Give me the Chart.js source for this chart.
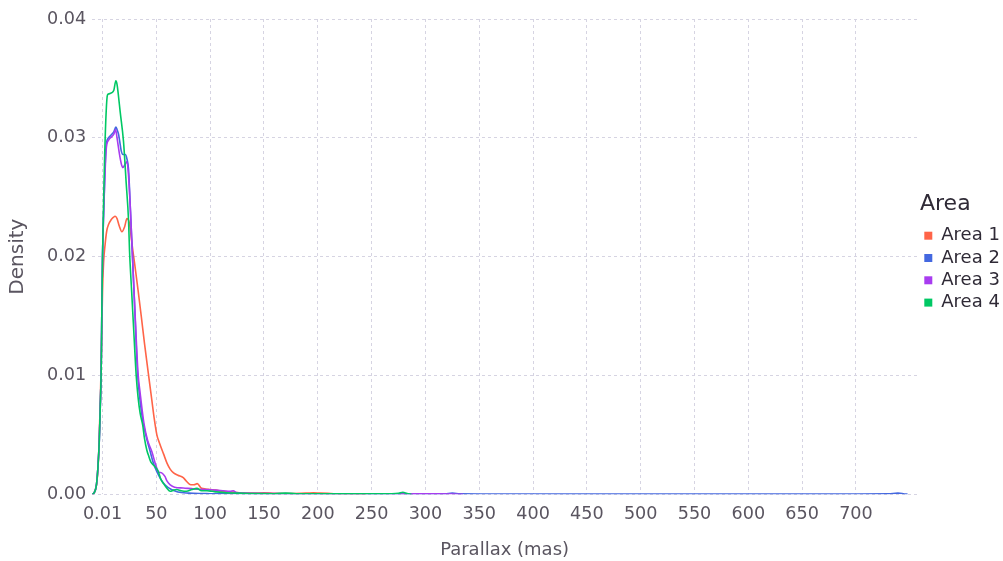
<!DOCTYPE html>
<html>
<head>
<meta charset="utf-8">
<script src="https://cdn.jsdelivr.net/npm/chart.js@4/dist/chart.umd.min.js"></script>
<style>
  html, body { margin: 0; padding: 0; background: #ffffff; }
  #wrap { width: 1003px; height: 561px; position: relative; }
</style>
</head>
<body>
<div id="wrap"><canvas id="chart"></canvas></div>
<script>
// Parallax density estimates per area (x in mas, y = density)
const area1X = [-9.5, -8, -6.5, -5, -3.5, -2, -1, 0, 1, 2.5, 4, 5.6, 8, 10, 11.8, 13.5, 15.5, 18, 20.5, 22.7, 25, 27.5, 30, 33, 36, 39, 42.7, 46, 48, 50.5, 53, 56.7, 60, 63, 66, 70, 75, 78, 82, 85, 88, 92, 96, 100, 105, 112, 118, 125, 132, 140, 150, 160, 175, 190, 196, 202, 215, 230, 245];
const area1Y = [0, 0.0001, 0.0004, 0.0012, 0.0035, 0.0080, 0.0120, 0.0170, 0.0195, 0.0211, 0.0222, 0.0227, 0.0231, 0.0233, 0.0234, 0.0232, 0.0226, 0.0221, 0.0225, 0.0232, 0.0228, 0.0210, 0.0193, 0.0172, 0.0150, 0.0127, 0.0101, 0.0078, 0.0064, 0.0050, 0.0043, 0.0034, 0.0026, 0.0021, 0.0018, 0.0016, 0.0014, 0.0011, 0.0008, 0.0008, 0.0009, 0.0005, 0.00045, 0.0004, 0.00035, 0.00025, 0.0002, 0.00015, 0.0001, 0.0001, 0.00012, 0.00008, 0.00006, 0.0001, 0.00013, 0.0001, 0.00005, 0.00002, 0];

const area2X = [-9.5, -8, -6.5, -5.5, -4.3, -3, -2.1, -1.2, -0.6, 0, 1, 2, 3.4, 5.6, 8.7, 10.5, 12.4, 13.5, 14.9, 16, 17.4, 19, 21.1, 22.5, 24.2, 26, 28, 30, 32.5, 35, 38, 41, 44.3, 47, 50.5, 54, 58, 64, 70, 80, 90, 100, 110, 125, 140, 160, 200, 250, 300, 318, 325, 332, 350, 400, 450, 500, 550, 600, 650, 700, 730, 739, 745, 748];
const area2Y = [0, 0.0001, 0.0004, 0.0009, 0.0022, 0.0045, 0.0073, 0.0106, 0.0157, 0.0199, 0.0235, 0.0265, 0.0294, 0.0300, 0.0303, 0.0305, 0.0309, 0.0307, 0.0303, 0.0297, 0.0289, 0.0286, 0.0286, 0.0283, 0.0273, 0.0238, 0.0197, 0.0155, 0.0103, 0.0078, 0.0059, 0.0047, 0.0036, 0.0027, 0.0019, 0.0013, 0.0008, 0.0004, 0.0002, 0.0001, 0.00006, 0.00005, 0.00004, 0.00004, 0.00003, 0.00003, 0.00002, 0.00002, 0.00002, 0.00003, 0.0001, 0.00003, 0.00002, 0.00002, 0.00001, 0.00001, 0.00001, 0.00001, 0.00001, 0.00002, 0.00003, 0.0001, 0.00003, 0];

const area3X = [-9.5, -8, -6.5, -5.5, -4.3, -3, -2.1, -1.2, -0.6, 0, 1, 2, 3.4, 5.6, 8.7, 10.5, 12.1, 13.5, 15.8, 17.5, 18.9, 20.5, 22.7, 24.2, 26, 28, 30, 33, 35, 38.6, 42, 45.8, 49, 52, 55, 58, 60, 62.9, 67, 75, 85, 97, 105, 112, 118.6, 121.6, 124, 130, 140, 160, 180, 200, 230, 260, 290, 310, 325, 335];
const area3Y = [0, 0.0001, 0.0004, 0.0009, 0.0022, 0.0045, 0.0073, 0.0106, 0.0157, 0.0199, 0.0235, 0.0262, 0.0290, 0.0298, 0.0301, 0.0303, 0.0307, 0.0300, 0.0286, 0.0278, 0.0275, 0.0277, 0.0280, 0.0268, 0.0238, 0.0197, 0.0157, 0.0102, 0.0085, 0.0059, 0.0045, 0.0036, 0.0026, 0.0019, 0.0018, 0.0015, 0.0011, 0.0008, 0.0006, 0.00053, 0.00045, 0.0004, 0.00035, 0.0003, 0.00025, 0.0003, 0.00015, 0.0001, 0.00008, 0.00006, 0.00005, 0.00005, 0.00004, 0.00004, 0.00003, 0.00003, 0.00002, 0];

const area4X = [-9.5, -8, -6.5, -5.5, -4.3, -3, -2.1, -1.2, -0.6, 0, 1, 2, 3.4, 4.6, 6, 8.7, 10.5, 12.4, 13.5, 14.5, 16.4, 19.5, 22, 24.2, 25.1, 27, 29, 31.3, 33, 35, 37.4, 39, 41.2, 43, 45, 48, 51.9, 54, 56.7, 59.8, 62.9, 66, 69, 73, 78, 83, 87.7, 92, 97, 102, 106, 115, 125, 140, 160, 170, 180, 200, 220, 240, 260, 275, 279, 283, 287];
const area4Y = [0, 0.0001, 0.0004, 0.0009, 0.0022, 0.0045, 0.0073, 0.0106, 0.0157, 0.0199, 0.0245, 0.0285, 0.0322, 0.0336, 0.0337, 0.0338, 0.0340, 0.0348, 0.0345, 0.0338, 0.0322, 0.0297, 0.0262, 0.0230, 0.0205, 0.0172, 0.0138, 0.0100, 0.0082, 0.0068, 0.0058, 0.0047, 0.0037, 0.0032, 0.0027, 0.0024, 0.0019, 0.0013, 0.0009, 0.0005, 0.00025, 0.00035, 0.0004, 0.0003, 0.00025, 0.0004, 0.0005, 0.0003, 0.0003, 0.00025, 0.0002, 0.00012, 0.0001, 0.00006, 0.00005, 0.0001, 0.00005, 0.00004, 0.00003, 0.00003, 0.00003, 0.00008, 0.00017, 0.00006, 0];

const seriesNames = ['Area 1', 'Area 2', 'Area 3', 'Area 4'];
const seriesColors = ['#FF6448', '#4468E0', '#A83CF0', '#00C864'];
const xTickValues = [0.01, 50, 100, 150, 200, 250, 300, 350, 400, 450, 500, 550, 600, 650, 700];
const yTickValues = [0, 0.01, 0.02, 0.03, 0.04];

const seriesX = [area1X, area2X, area3X, area4X];
const seriesY = [area1Y, area2Y, area3Y, area4Y];

const FONT = 'DejaVu Sans';
const TEXT = '#5a5560';
const GRID = '#d6d4e2';

const datasets = seriesNames.map((name, i) => ({
  label: name,
  data: seriesX[i].map((x, j) => ({ x: x, y: seriesY[i][j] })),
  borderColor: seriesColors[i],
  backgroundColor: seriesColors[i],
  borderWidth: 1.6,
  pointRadius: 0,
  pointStyle: 'rect',
  cubicInterpolationMode: 'monotone',
  fill: false,
  order: seriesNames.length - 1 - i   // later areas drawn on top
}));

// nudges the legend block a few pixels right of the plot edge
const legendNudge = {
  id: 'legendNudge',
  afterLayout(chart) {
    const lg = chart.legend;
    if (lg) { lg.left += 3; lg.right += 3; }
  }
};

new Chart(document.getElementById('chart'), {
  type: 'line',
  data: { datasets },
  plugins: [legendNudge],
  options: {
    responsive: true,
    maintainAspectRatio: false,
    animation: false,
    layout: { padding: { top: 19, left: 0, right: 0, bottom: 0 } },
    plugins: {
      tooltip: { enabled: false },
      legend: {
        position: 'right',
        align: 'start',
        maxWidth: 86,
        labels: {
          usePointStyle: true,
          pointStyle: 'rect',
          boxWidth: 8,
          boxHeight: 8,
          padding: 4.3,
          color: '#3e3946',
          font: { family: FONT, size: 18 },
          sort: (a, b) => a.datasetIndex - b.datasetIndex,
          generateLabels(chart) {
            return chart.data.datasets.map((ds, i) => ({
              text: ds.label,
              fillStyle: ds.borderColor,
              strokeStyle: ds.borderColor,
              lineWidth: 0,
              pointStyle: 'rect',
              datasetIndex: i,
              hidden: false
            }));
          }
        },
        title: {
          display: true,
          text: 'Area',
          color: '#2f2a36',
          position: 'start',
          font: { family: FONT, size: 22 },
          padding: { top: 174, bottom: 3 }
        }
      }
    },
    scales: {
      x: {
        type: 'linear',
        min: -9.6,
        max: 756.7,
        afterBuildTicks(scale) { scale.ticks = xTickValues.map(v => ({ value: v })); },
        grid: { color: GRID, drawTicks: false, lineWidth: 1 },
        border: { display: false, dash: [3, 3] },
        ticks: {
          color: TEXT,
          font: { family: FONT, size: 17.6 },
          padding: 10,
          maxRotation: 0,
          autoSkip: false,
          callback: (v) => (v === 0.01 ? '0.01' : String(v))
        },
        title: {
          display: true,
          text: 'Parallax (mas)',
          color: TEXT,
          font: { family: FONT, size: 18 },
          padding: { top: 4, bottom: 0 }
        }
      },
      y: {
        min: 0,
        max: 0.04,
        afterBuildTicks(scale) { scale.ticks = yTickValues.map(v => ({ value: v })); },
        grid: { color: GRID, drawTicks: false, lineWidth: 1 },
        border: { display: false, dash: [3, 3] },
        ticks: {
          color: TEXT,
          font: { family: FONT, size: 17.6 },
          padding: 6,
          callback: (v) => Number(v).toFixed(2)
        },
        title: {
          display: true,
          text: 'Density',
          color: TEXT,
          font: { family: FONT, size: 20 },
          padding: { top: 6, bottom: 11 }
        }
      }
    }
  }
});
</script>
</body>
</html>
